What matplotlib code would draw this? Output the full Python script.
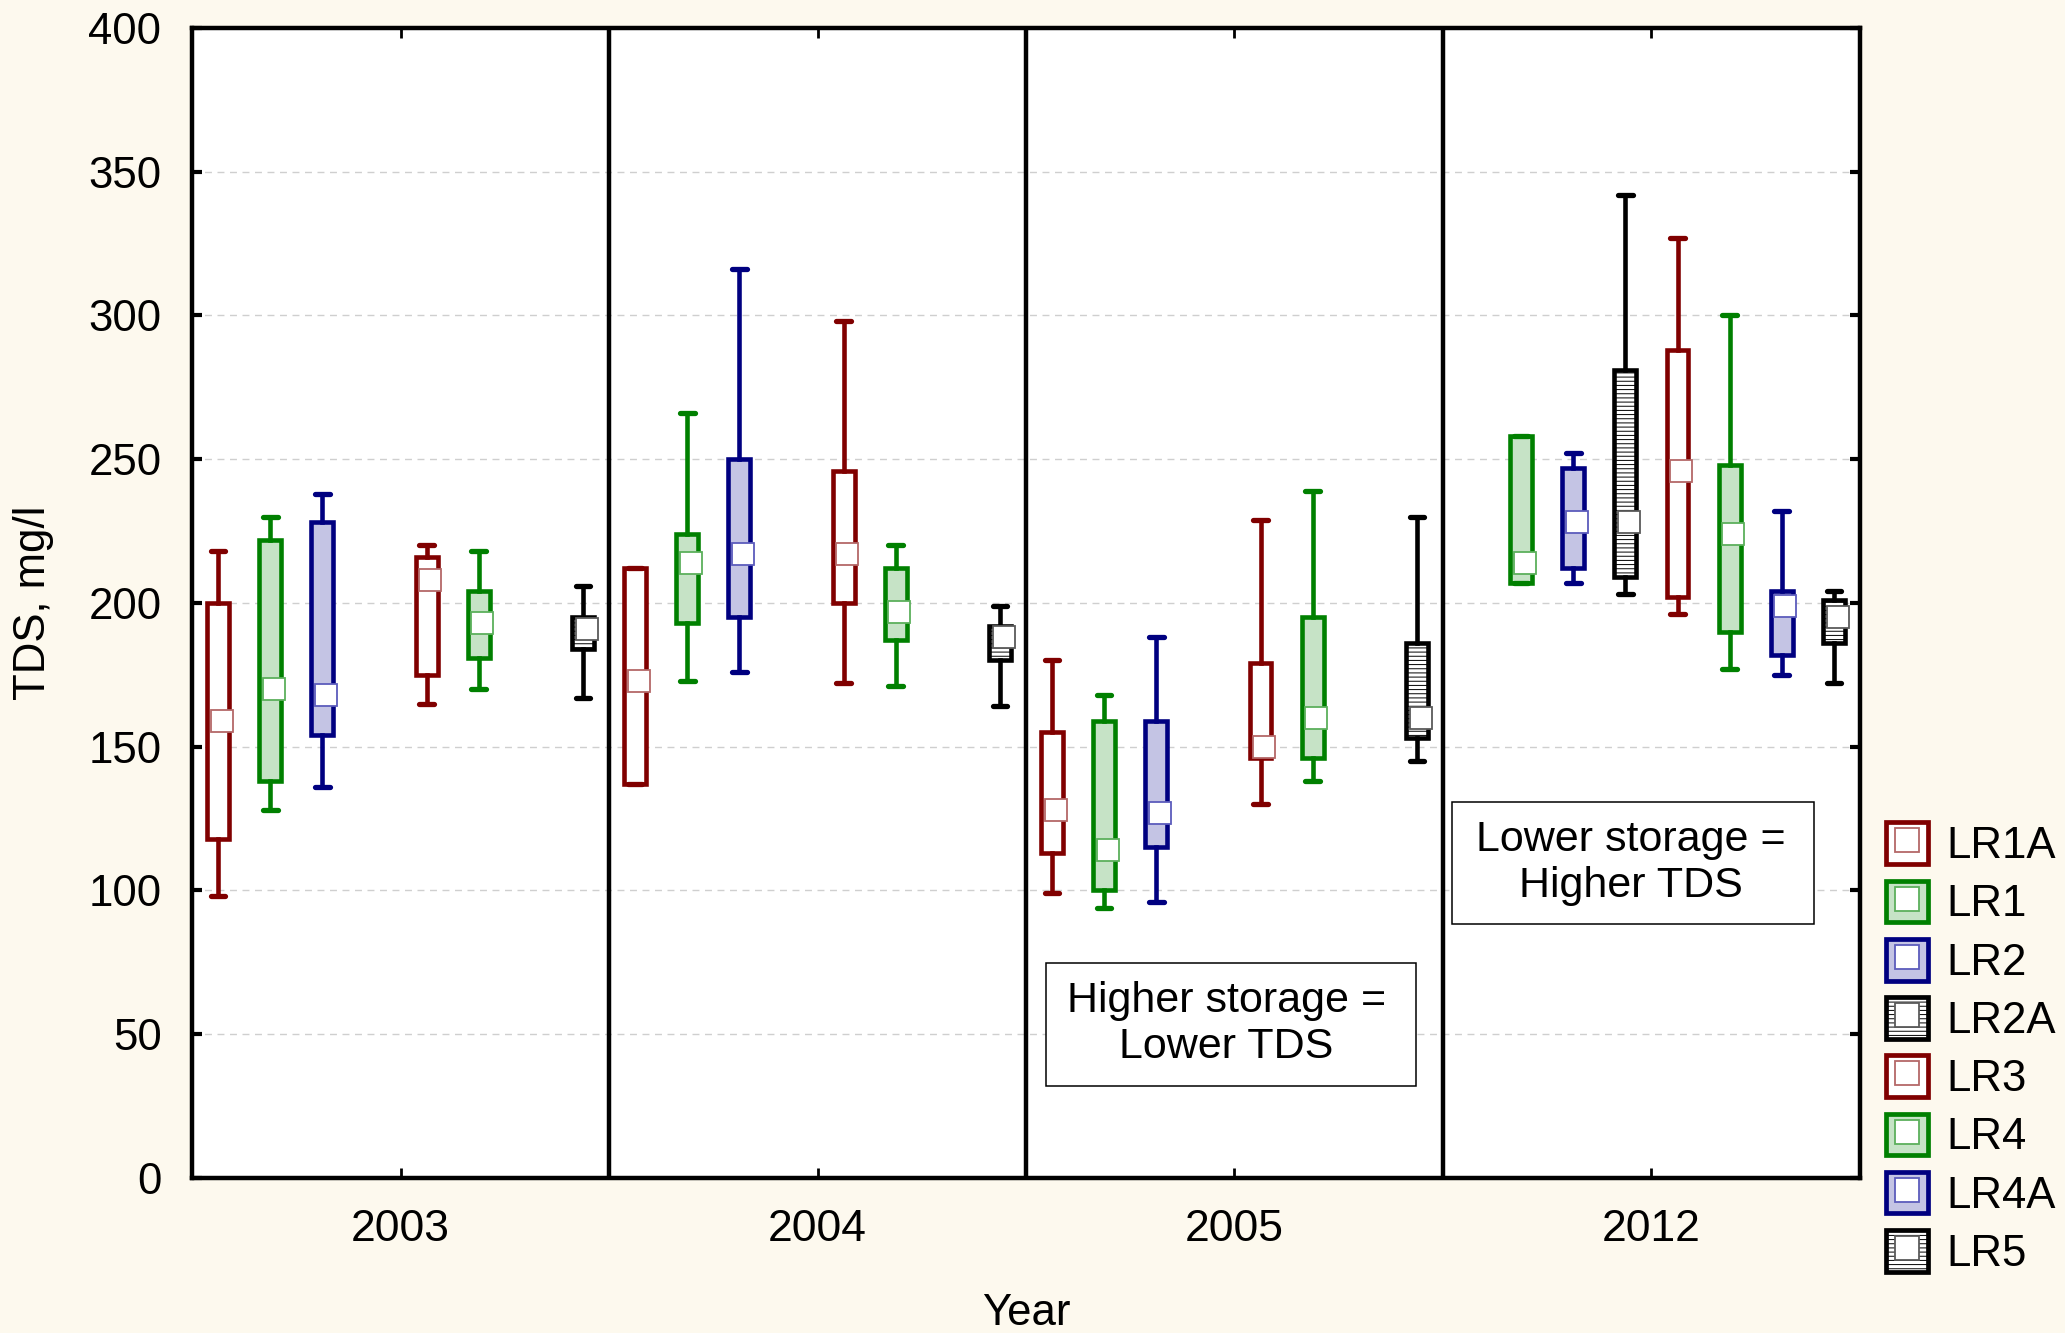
import numpy as np
import matplotlib
matplotlib.use('Agg')
import matplotlib.pyplot as plt
from matplotlib.patches import Rectangle, Patch
from matplotlib.lines import Line2D
from matplotlib.legend_handler import HandlerTuple

plt.rcParams['font.family'] = ['Liberation Sans', 'DejaVu Sans']
plt.rcParams['hatch.linewidth'] = 0.7

years = ['2003', '2004', '2005', '2012']
sites = ['LR1A', 'LR1', 'LR2', 'LR2A', 'LR3', 'LR4', 'LR4A', 'LR5']
nan = np.nan

# TDS (mg/l) summaries, rows = sites, columns = years
tds_min = [
    [98, 137, 99, nan],
    [128, 173, 94, 207],
    [136, 176, 96, 207],
    [nan, nan, nan, 203],
    [165, 172, 130, 196],
    [170, 171, 138, 177],
    [nan, nan, nan, 175],
    [167, 164, 145, 172],
]
tds_q1 = [
    [118, 137, 113, nan],
    [138, 193, 100, 207],
    [154, 195, 115, 212],
    [nan, nan, nan, 209],
    [175, 200, 146, 202],
    [181, 187, 146, 190],
    [nan, nan, nan, 182],
    [184, 180, 153, 186],
]
tds_median = [
    [159, 173, 128, nan],
    [170, 214, 114, 214],
    [168, 217, 127, 228],
    [nan, nan, nan, 228],
    [208, 217, 150, 246],
    [193, 197, 160, 224],
    [nan, nan, nan, 199],
    [191, 188, 160, 195],
]
tds_q3 = [
    [200, 212, 155, nan],
    [222, 224, 159, 258],
    [228, 250, 159, 247],
    [nan, nan, nan, 281],
    [216, 246, 179, 288],
    [204, 212, 195, 248],
    [nan, nan, nan, 204],
    [195, 192, 186, 201],
]
tds_max = [
    [218, 212, 180, nan],
    [230, 266, 168, 258],
    [238, 316, 188, 252],
    [nan, nan, nan, 342],
    [220, 298, 229, 327],
    [218, 220, 239, 300],
    [nan, nan, nan, 232],
    [206, 199, 230, 204],
]

line_col = ['#800000', '#008000', '#000080', '#000000'] * 2
fill_col = ['white', '#c6e3c6', '#c4c4e4', 'white'] * 2
mark_col = ['#b46868', '#5cb05c', '#5c5cbc', '#5a5a5a'] * 2
hatches = [None, None, None, '----'] * 2

fig = plt.figure(figsize=(20.65, 13.33), dpi=100, facecolor='#fdf9ee')
ax = fig.add_axes([0.093, 0.1163, 0.8077, 0.8627])
ax.set_facecolor('white')

n_sites = len(sites)
for j, site in enumerate(sites):
    stats, pos, meds = [], [], []
    for i in range(len(years)):
        if np.isnan(tds_median[j][i]):
            continue
        stats.append(dict(med=tds_median[j][i], q1=tds_q1[j][i], q3=tds_q3[j][i],
                          whislo=tds_min[j][i], whishi=tds_max[j][i], fliers=[]))
        pos.append(i * n_sites + j + 0.5)
        meds.append(tds_median[j][i])
    c = line_col[j]
    ax.bxp(stats, positions=pos, widths=0.42, capwidths=0.28, patch_artist=True,
           showfliers=False, manage_ticks=False,
           boxprops=dict(facecolor=fill_col[j], edgecolor=c, linewidth=3.3, hatch=hatches[j]),
           whiskerprops=dict(color=c, linewidth=3.3),
           capprops=dict(color=c, linewidth=3.8, solid_capstyle='round'),
           medianprops=dict(linewidth=0))
    ax.plot(np.array(pos) + 0.07, meds, ls='none', marker='s', ms=16.5,
            mfc='white', mec=mark_col[j], mew=1.3, zorder=4)

for k in range(1, len(years)):
    ax.axvline(k * n_sites, color='black', lw=3.2, zorder=3)

ax.set_xlim(0, n_sites * len(years))
ax.set_ylim(0, 400)
ax.set_yticks(np.arange(0, 401, 50))
ax.set_xticks(np.arange(len(years)) * n_sites + n_sites / 2)
ax.set_xticklabels(years)
ax.yaxis.grid(True, ls=(0, (5, 4)), color='#cfcfcf', lw=1)
ax.set_axisbelow(True)
ax.tick_params(axis='y', direction='in', left=True, right=True, length=7, width=3,
               labelsize=31.5, pad=22)
ax.tick_params(axis='x', direction='in', top=True, bottom=True, length=7, width=2,
               labelsize=32, pad=22)
for s in ax.spines.values():
    s.set_linewidth(3.2)

ax.set_ylabel('TDS, mg/l', fontsize=31.5)
ax.yaxis.set_label_coords(-0.083, 0.5)
ax.set_xlabel('Year', fontsize=31.5)
ax.xaxis.set_label_coords(0.5, -0.1)

ax.add_patch(Rectangle((16.38, 32.0), 7.11, 42.8, facecolor='white',
                       edgecolor='black', lw=1.1, zorder=5))
ax.text(19.85, 53.6, 'Higher storage =\nLower TDS', ha='center', va='center',
        fontsize=31, zorder=6)
ax.add_patch(Rectangle((24.18, 88.3), 6.94, 42.5, facecolor='white',
                       edgecolor='black', lw=1.1, zorder=5))
ax.text(27.6, 109.5, 'Lower storage =\nHigher TDS', ha='center', va='center',
        fontsize=31, zorder=6)

handles = []
for j in range(n_sites):
    box = Patch(facecolor=fill_col[j], edgecolor=line_col[j], lw=3.4, hatch=hatches[j])
    mk = Line2D([], [], ls='none', marker='s', ms=17, mfc='white',
                mec=mark_col[j], mew=1.3)
    handles.append((box, mk))
fig.legend(handles, sites, handler_map={tuple: HandlerTuple(ndivide=1, pad=0)},
           loc='upper left', bbox_to_anchor=(0.9133, 0.383), frameon=False,
           fontsize=31.5, handlelength=0.95, handleheight=1.085, handletextpad=0.42,
           labelspacing=0.31, borderpad=0, borderaxespad=0)

fig.savefig('out.png', dpi=100, facecolor=fig.get_facecolor())
